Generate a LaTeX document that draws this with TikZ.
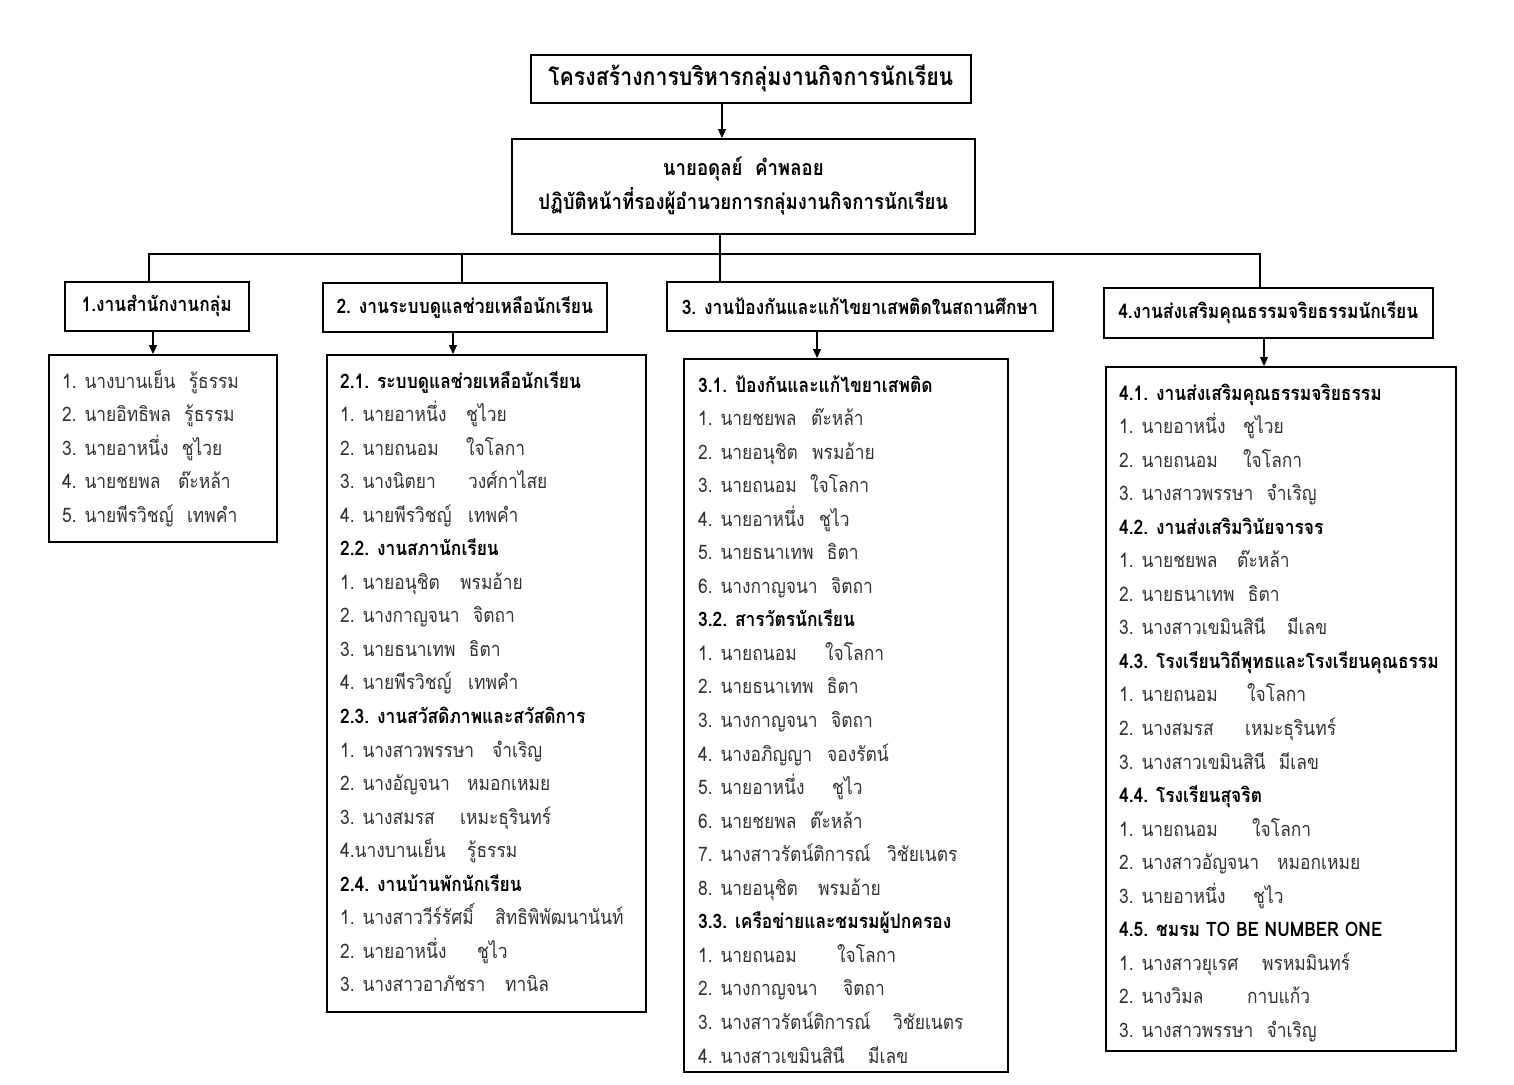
\documentclass[tikz,border=0pt]{standalone}
\usepackage{fontspec}
\setmainfont[Script=Thai, FakeStretch=0.87]{Loma}
\usetikzlibrary{arrows.meta,calc}
\tikzset{
  box/.style={draw, line width=1.6pt, inner sep=0pt, anchor=north west},
  item/.style={anchor=base west, inner sep=0pt, font=\fontsize{20}{24}\selectfont, text=black!80},
  hd/.style={anchor=base west, inner sep=0pt, font=\fontsize{20}{24}\selectfont\bfseries, text=black},
  arr/.style={line width=1.2pt, -{Triangle[length=9pt,width=8pt]}},
  ln/.style={line width=1.6pt},
}
\newcommand\row[5]{\node[item] (#1a#2) at ({\Lx},{-(\Ly+(#2-1)*33.55+8)}) {#3};
  \path let \p1=(#1a#2.base east) in node[item] (#1b#2) at ({max(#4,\x1+13)},\y1) {#5};}
\newcommand\hrow[3]{\node[hd] (#1h#2) at ({\Lx},{-(\Ly+(#2-1)*33.55+8)}) {#3};}
\begin{document}
\begin{tikzpicture}[x=1pt,y=1pt]
\useasboundingbox[fill=white] (0,0) rectangle (1514,-1084);
% top boxes
\node[box, minimum width=440pt, minimum height=48pt, font=\fontsize{24.5}{28}\selectfont\bfseries] (t) at (530,-54) {โครงสร้างการบริหารกลุ่มงานกิจการนักเรียน};
\node[box, minimum width=463pt, minimum height=95pt, align=center, font=\fontsize{21.4}{34}\selectfont\bfseries] (h) at (511,-138) {นายอดุลย์\ \ คำพลอย\\ปฏิบัติหน้าที่รองผู้อำนวยการกลุ่มงานกิจการนักเรียน};
% section boxes
\node[box, minimum width=184pt, minimum height=49pt, font=\fontsize{20}{24}\selectfont\bfseries] (s1) at (64,-281) {1.งานสำนักงานกลุ่ม};
\node[box, minimum width=284pt, minimum height=49pt, font=\fontsize{20}{24}\selectfont\bfseries] (s2) at (322,-282) {2. งานระบบดูแลช่วยเหลือนักเรียน};
\node[box, minimum width=386pt, minimum height=49pt, font=\fontsize{20}{24}\selectfont\bfseries] (s3) at (666,-281) {3. งานป้องกันและแก้ไขยาเสพติดในสถานศึกษา};
\node[box, minimum width=329pt, minimum height=50pt, font=\fontsize{20}{24}\selectfont\bfseries] (s4) at (1103,-287) {4.งานส่งเสริมคุณธรรมจริยธรรมนักเรียน};
% list boxes
\node[box, minimum width=228pt, minimum height=187pt] (l1) at (48,-354) {};
\node[box, minimum width=319pt, minimum height=657pt] (l2) at (326,-354) {};
\node[box, minimum width=324pt, minimum height=713pt] (l3) at (683,-358) {};
\node[box, minimum width=350pt, minimum height=684pt] (l4) at (1105,-366) {};
% connectors
\coordinate (a0) at (722,0);
\coordinate (c1) at (149,-254);
\coordinate (c2) at (462,-254);
\coordinate (c3) at (720,-254);
\coordinate (c4) at (1260,-254);
\coordinate (d1) at (153,0);
\coordinate (d2) at (453,0);
\coordinate (d3) at (817,0);
\coordinate (d4) at (1264,0);
\draw[arr] (t.south -| a0) -- (h.north -| a0);
\draw[ln] (h.south -| c3) -- (s3.north -| c3);
\draw[ln, line cap=rect] (c1) -- (c4);
\draw[ln] (c1) -- (s1.north -| c1);
\draw[ln] (c2) -- (s2.north -| c2);
\draw[ln] (c4) -- (s4.north -| c4);
\draw[arr] (s1.south -| d1) -- (l1.north -| d1);
\draw[arr] (s2.south -| d2) -- (l2.north -| d2);
\draw[arr] (s3.south -| d3) -- (l3.north -| d3);
\draw[arr] (s4.south -| d4) -- (l4.north -| d4);
% list 1
\def\Lx{62}\def\Ly{380}
\row{p}{1}{1. นางบานเย็น}{173}{รู้ธรรม}
\row{p}{2}{2. นายอิทธิพล}{176}{รู้ธรรม}
\row{p}{3}{3. นายอาหนึ่ง}{175}{ชูไวย}
\row{p}{4}{4. นายชยพล}{178}{ต๊ะหล้า}
\row{p}{5}{5. นายพีรวิชญ์}{175}{เทพคำ}
% list 2
\def\Lx{340}\def\Ly{380}
\hrow{q}{1}{2.1. ระบบดูแลช่วยเหลือนักเรียน}
\row{q}{2}{1. นายอาหนึ่ง}{466}{ชูไวย}
\row{q}{3}{2. นายถนอม}{466}{ใจโลกา}
\row{q}{4}{3. นางนิตยา}{468}{วงศ์กาไสย}
\row{q}{5}{4. นายพีรวิชญ์}{468}{เทพคำ}
\hrow{q}{6}{2.2. งานสภานักเรียน}
\row{q}{7}{1. นายอนุชิต}{460}{พรมอ้าย}
\row{q}{8}{2. นางกาญจนา}{463}{จิตถา}
\row{q}{9}{3. นายธนาเทพ}{467}{ธิตา}
\row{q}{10}{4. นายพีรวิชญ์}{468}{เทพคำ}
\hrow{q}{11}{2.3. งานสวัสดิภาพและสวัสดิการ}
\row{q}{12}{1. นางสาวพรรษา}{492}{จำเริญ}
\row{q}{13}{2. นางอัญจนา}{467}{หมอกเหมย}
\row{q}{14}{3. นางสมรส}{460}{เหมะธุรินทร์}
\row{q}{15}{4.นางบานเย็น}{467}{รู้ธรรม}
\hrow{q}{16}{2.4. งานบ้านพักนักเรียน}
\row{q}{17}{1. นางสาววีร์รัศมิ์}{495}{สิทธิพิพัฒนานันท์}
\row{q}{18}{2. นายอาหนึ่ง}{477}{ชูไว}
\row{q}{19}{3. นางสาวอาภัชรา}{505}{ทานิล}
% list 3
\def\Lx{698}\def\Ly{384}
\hrow{r}{1}{3.1. ป้องกันและแก้ไขยาเสพติด}
\row{r}{2}{1. นายชยพล}{811}{ต๊ะหล้า}
\row{r}{3}{2. นายอนุชิต}{812}{พรมอ้าย}
\row{r}{4}{3. นายถนอม}{808}{ใจโลกา}
\row{r}{5}{4. นายอาหนึ่ง}{819}{ชูไว}
\row{r}{6}{5. นายธนาเทพ}{818}{ธิตา}
\row{r}{7}{6. นางกาญจนา}{823}{จิตถา}
\hrow{r}{8}{3.2. สารวัตรนักเรียน}
\row{r}{9}{1. นายถนอม}{825}{ใจโลกา}
\row{r}{10}{2. นายธนาเทพ}{818}{ธิตา}
\row{r}{11}{3. นางกาญจนา}{827}{จิตถา}
\row{r}{12}{4. นางอภิญญา}{827}{จองรัตน์}
\row{r}{13}{5. นายอาหนึ่ง}{832}{ชูไว}
\row{r}{14}{6. นายชยพล}{810}{ต๊ะหล้า}
\row{r}{15}{7. นางสาวรัตน์ติการณ์}{887}{วิชัยเนตร}
\row{r}{16}{8. นายอนุชิต}{818}{พรมอ้าย}
\hrow{r}{17}{3.3. เครือข่ายและชมรมผู้ปกครอง}
\row{r}{18}{1. นายถนอม}{837}{ใจโลกา}
\row{r}{19}{2. นางกาญจนา}{843}{จิตถา}
\row{r}{20}{3. นางสาวรัตน์ติการณ์}{893}{วิชัยเนตร}
\row{r}{21}{4. นางสาวเขมินสินี}{868}{มีเลข}
% list 4
\def\Lx{1119}\def\Ly{392}
\hrow{s}{1}{4.1. งานส่งเสริมคุณธรรมจริยธรรม}
\row{s}{2}{1. นายอาหนึ่ง}{1243}{ชูไวย}
\row{s}{3}{2. นายถนอม}{1243}{ใจโลกา}
\row{s}{4}{3. นางสาวพรรษา}{1250}{จำเริญ}
\hrow{s}{5}{4.2. งานส่งเสริมวินัยจารจร}
\row{s}{6}{1. นายชยพล}{1237}{ต๊ะหล้า}
\row{s}{7}{2. นายธนาเทพ}{1247}{ธิตา}
\row{s}{8}{3. นางสาวเขมินสินี}{1287}{มีเลข}
\hrow{s}{9}{4.3. โรงเรียนวิถีพุทธและโรงเรียนคุณธรรม}
\row{s}{10}{1. นายถนอม}{1247}{ใจโลกา}
\row{s}{11}{2. นางสมรส}{1245}{เหมะธุรินทร์}
\row{s}{12}{3. นางสาวเขมินสินี}{1278}{มีเลข}
\hrow{s}{13}{4.4. โรงเรียนสุจริต}
\row{s}{14}{1. นายถนอม}{1252}{ใจโลกา}
\row{s}{15}{2. นางสาวอัญจนา}{1277}{หมอกเหมย}
\row{s}{16}{3. นายอาหนึ่ง}{1253}{ชูไว}
\hrow{s}{17}{4.5. ชมรม TO BE NUMBER ONE}
\row{s}{18}{1. นางสาวยุเรศ}{1262}{พรหมมินทร์}
\row{s}{19}{2. นางวิมล}{1247}{กาบแก้ว}
\row{s}{20}{3. นางสาวพรรษา}{1250}{จำเริญ}
\end{tikzpicture}
\end{document}
